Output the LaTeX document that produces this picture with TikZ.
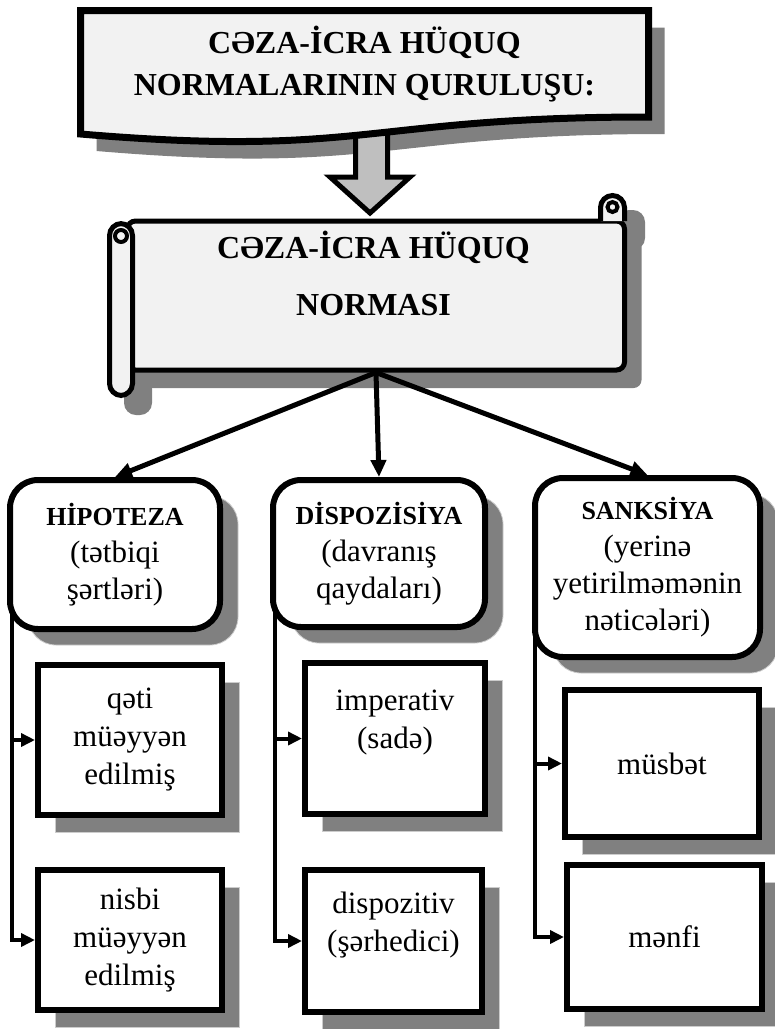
\documentclass[tikz,border=0pt]{standalone}
\usepackage{fontspec}
\setmainfont{Liberation Serif}
\usetikzlibrary{arrows.meta, shadows, backgrounds}
\definecolor{paper}{HTML}{F2F2F2}
\definecolor{arrowgray}{HTML}{BFBFBF}
\definecolor{shadowgray}{HTML}{808080}
\newcommand{\boxhead}{\fontsize{26}{37}\selectfont\bfseries}

\begin{document}
\begin{tikzpicture}[x=1pt, y=-1pt,
    main/.style = {draw, line width=6pt, fill=white, rounded corners=28pt, align=center, inner sep=0pt,
        font=\fontsize{31}{37}\selectfont,
        drop shadow={shadow xshift=18pt, shadow yshift=-16pt, fill=shadowgray, opacity=1, draw=gray!40, line width=0.8pt}},
    sub/.style = {draw, line width=6pt, fill=white, align=center, inner sep=0pt,
        font=\fontsize{31}{38}\selectfont,
        drop shadow={shadow xshift=17pt, shadow yshift=-17pt, fill=shadowgray, opacity=1, draw=gray!40, line width=0.8pt}},
    link/.style = {line width=5pt, -{Triangle[length=17pt, width=15pt]}},
    branch/.style = {line width=4pt, -{Triangle[length=14pt, width=13pt]}}]
    \useasboundingbox (0,0) rectangle (775,1029);

    \fill[shadowgray, shift={(16,17)}] (80.5,10.5) -- (648.5,10.5) -- (648.5,117)
        .. controls (364.5,117) and (364.5,158) .. (80.5,134) -- cycle;
    \filldraw[fill=arrowgray, line width=5pt] (355.5,115) -- (355.5,177) -- (330,177) -- (370,213)
        -- (410,177) -- (387.5,177) -- (387.5,115) -- cycle;
    \filldraw[fill=paper, line width=7pt] (80.5,10.5) -- (648.5,10.5) -- (648.5,117)
        .. controls (364.5,117) and (364.5,158) .. (80.5,134) -- cycle;
    \node[font=\fontsize{32}{42}\selectfont\bfseries, align=center] (title) at (364.5,64) {CƏZA-İCRA HÜQUQ\\NORMALARININ QURULUŞU:};

    \fill[shadowgray, rounded corners=12pt] (124,241) rectangle (152,415);
    \fill[shadowgray, rounded corners=12pt] (617,210) rectangle (645,250);
    \node[draw, fill=paper, line width=5pt, rounded corners=8pt, minimum width=497pt, minimum height=149pt, inner sep=0pt,
        drop shadow={shadow xshift=17pt, shadow yshift=-18pt, fill=shadowgray, opacity=1}] (norma) at (376,295.5) {};
    \filldraw[fill=paper, line width=5pt, rounded corners=12pt] (109.5,223.5) rectangle (132.5,395.5);
    \draw[line width=4pt] (121,236) circle [radius=6pt];
    \filldraw[fill=paper, line width=5pt, rounded corners=12pt] (600.5,221) -- (600.5,195.5) -- (624.5,195.5) -- (624.5,221);
    \draw[line width=4pt] (612.5,207) circle [radius=5pt];
    \node[font=\fontsize{32}{57}\selectfont\bfseries, align=center] (normatxt) at (373.5,273) {CƏZA-İCRA HÜQUQ\\NORMASI};

    \node[main, minimum width=210pt, minimum height=149pt] (hip) at (115,554.5) {{\boxhead HİPOTEZA}\\(tətbiqi\\şərtləri)};
    \node[main, minimum width=212pt, minimum height=147pt] (dis) at (379,553.5) {{\boxhead DİSPOZİSİYA}\\(davranış\\qaydaları)};
    \node[main, minimum width=225pt, minimum height=179pt] (san) at (647.5,567.5) {{\boxhead SANKSİYA}\\(yerinə\\yetirilməmənin\\nəticələri)};

    \node[sub, minimum width=184pt, minimum height=150pt] (qeti) at (130,740) {qəti\\müəyyən\\edilmiş};
    \node[sub, minimum width=184pt, minimum height=140pt] (nisbi) at (130,940) {nisbi\\müəyyən\\edilmiş};
    \node[sub, minimum width=180pt, minimum height=151pt] (imp) at (395,738.5) {imperativ\\(sadə)\\\mbox{}};
    \node[sub, minimum width=177pt, minimum height=142pt] (dispoz) at (393.5,941) {dispozitiv\\(şərhedici)\\\mbox{}};
    \node[sub, minimum width=194pt, minimum height=147pt] (musbet) at (662,763.5) {müsbət};
    \node[sub, minimum width=195pt, minimum height=144pt] (menfi) at (664.5,937) {mənfi};

    \draw[link] (norma.south) -- (hip.north);
    \draw[link] (norma.south) -- (dis.north);
    \draw[link] (norma.south) -- (san.north);

    \begin{scope}[on background layer]
        \draw[branch] ([xshift=5pt, yshift=30pt]hip.south west) |- (qeti.west);
        \draw[branch] ([xshift=5pt, yshift=30pt]hip.south west) |- (nisbi.west);
        \draw[branch] ([xshift=5pt, yshift=30pt]dis.south west) |- (imp.west);
        \draw[branch] ([xshift=5pt, yshift=30pt]dis.south west) |- (dispoz.west);
        \draw[branch] ([xshift=3pt, yshift=30pt]san.south west) |- (musbet.west);
        \draw[branch] ([xshift=3pt, yshift=30pt]san.south west) |- (menfi.west);
    \end{scope}
\end{tikzpicture}
\end{document}
